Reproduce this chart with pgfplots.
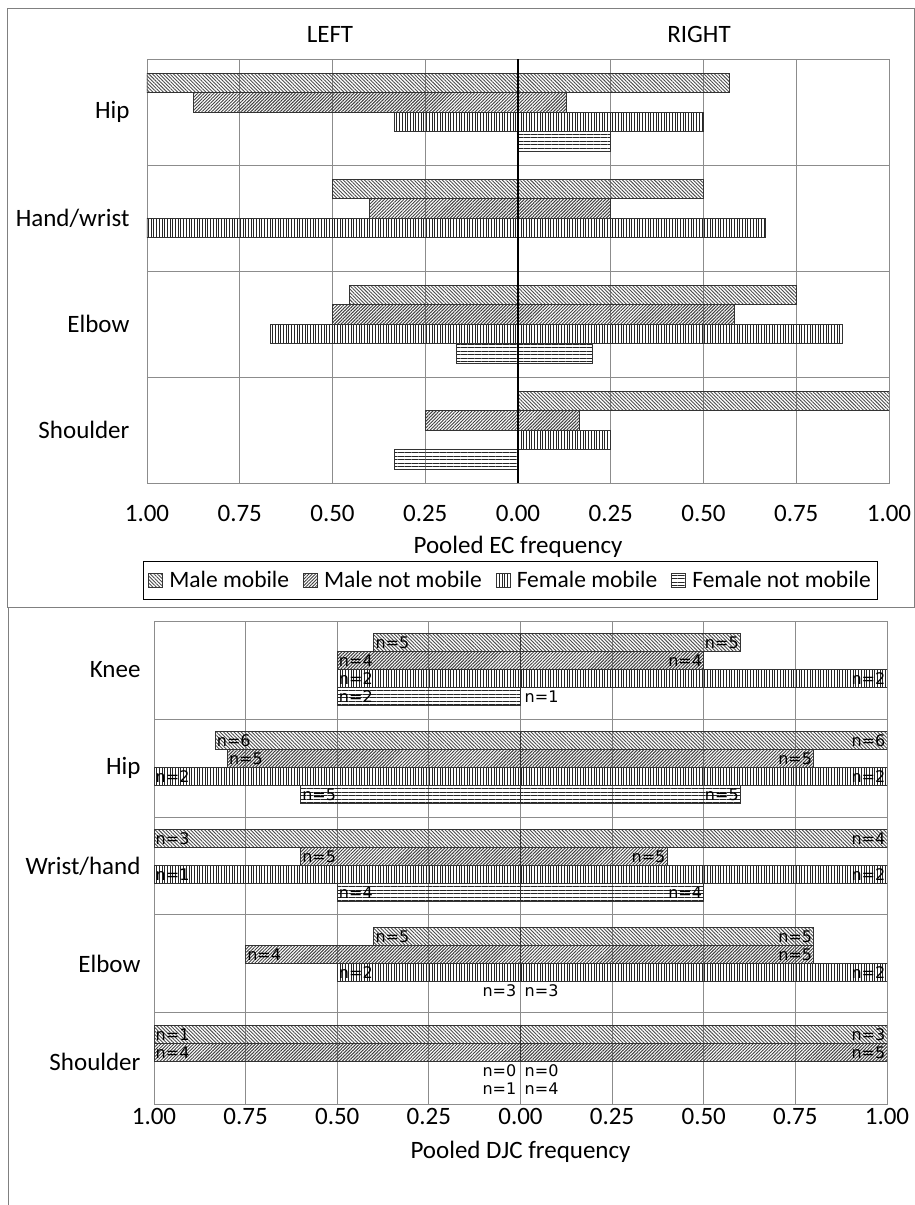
\documentclass[border=0pt]{standalone}
\usepackage{fontspec}
\setmainfont{Carlito}
\newfontfamily\nfont{DejaVu Sans}
\usepackage{pgfplots}
\pgfplotsset{compat=1.18}
\usetikzlibrary{patterns.meta}
\newcommand\fs{\fontsize{25}{30}\selectfont}
\newcommand\lfs{\fontsize{23.5}{28}\selectfont}
\newcommand\nfs{\nfont\fontsize{16}{16}\selectfont}

\tikzset{
  mm/.style={draw=black!80, line width=1pt, pattern={Lines[angle=-45,distance=2.5pt,line width=0.9pt]}, pattern color=black!70},
  mn/.style={draw=black!80, line width=1pt, pattern={Lines[angle=45,distance=2.3pt,line width=1pt]}, pattern color=black!75},
  fm/.style={draw=black!80, line width=1pt, pattern={Lines[angle=90,distance=2.7pt,line width=0.9pt]}, pattern color=black!85},
  fn/.style={draw=black!80, line width=1pt, pattern={Lines[angle=0,distance=3.5pt,line width=0.9pt]}, pattern color=black!85},
  zz/.style={draw=none, fill=none},
}

\pgfplotsset{
 hb/.style={scale only axis, xbar, xmin=-1, xmax=1,
   xtick={-1,-0.75,-0.5,-0.25,0,0.25,0.5,0.75,1},
   xticklabels={1.00,0.75,0.50,0.25,0.00,0.25,0.50,0.75,1.00},
   xmajorgrids, yminorgrids,
   major tick length=0pt, minor tick length=0pt,
   tick label style={font=\fs, text=black},
   yticklabel style={anchor=east},
   label style={font=\fs},
   axis line style={black!45, line width=0.9pt},
   major grid style={black!45, line width=0.9pt},
   minor grid style={black!45, line width=0.9pt},
   legend image code/.code={\draw[#1] (0pt,-7pt) rectangle (14pt,7pt);},
 },
 lab/.style={point meta=explicit symbolic, nodes near coords,
   nodes near coords style={font=\nfs, text=black, inner sep=1.2pt, anchor=#1}},
 labz/.style={point meta=explicit symbolic, nodes near coords,
   nodes near coords style={font=\nfs, text=black, inner sep=4pt, anchor=#1}},
}

\begin{document}
\begin{tikzpicture}
\path[use as bounding box] (0pt,0pt) rectangle (915pt,-1205pt);
\draw[black!50, line width=1pt] (7pt,-8pt) rectangle (914pt,-607pt);
\draw[black!50, line width=1pt] (8pt,-607pt) -- (8pt,-1205pt);
\node[font=\fs] at (330pt,-34pt) {LEFT};
\node[font=\fs] at (699pt,-34pt) {RIGHT};

% ---------- top chart ----------
\begin{axis}[hb, at={(147pt,-59pt)}, anchor=north west,
  width=742pt, height=424pt,
  ymin=-0.5, ymax=3.5, ytick={0,1,2,3},
  yticklabels={Shoulder,Elbow,Hand/wrist,Hip},
  yticklabel style={xshift=-14pt},
  xticklabel style={yshift=-19pt},
  minor ytick={0.5,1.5,2.5},
  bar width=19.5pt,
  xlabel={Pooled EC frequency},
  xlabel style={at={(axis description cs:0.5,0)}, anchor=center, yshift=-64pt},
  legend style={at={(axis description cs:0.49,-0.229)}, anchor=center,
    draw=black, line width=1pt, font=\lfs, legend columns=4,
    inner ysep=8pt, inner xsep=5pt,
    /tikz/every odd column/.append style={column sep=4pt},
    /tikz/every even column/.append style={column sep=12pt}},
]
\addplot[mm, bar shift=29.25pt] coordinates {(-1,3) (0.571,3) (-0.5,2) (0.5,2) (-0.4545,1) (0.75,1) (1,0)};
\addlegendentry{Male mobile}
\addplot[mn, bar shift=9.75pt] coordinates {(-0.875,3) (0.13,3) (-0.4,2) (0.25,2) (-0.5,1) (0.583,1) (-0.25,0) (0.167,0)};
\addlegendentry{Male not mobile}
\addplot[fm, bar shift=-9.75pt] coordinates {(-0.333,3) (0.5,3) (-1,2) (0.667,2) (-0.667,1) (0.875,1) (0.25,0)};
\addlegendentry{Female mobile}
\addplot[fn, bar shift=-29.25pt] coordinates {(0.25,3) (-0.167,1) (0.2,1) (-0.333,0)};
\addlegendentry{Female not mobile}
\draw[black, line width=2pt] (axis cs:0,-0.5) -- (axis cs:0,3.5);
\end{axis}

% ---------- bottom chart ----------
\begin{axis}[hb, at={(154pt,-621pt)}, anchor=north west,
  width=733pt, height=483pt,
  ymin=-0.43, ymax=4.5, ytick={0,1,2,3,4},
  yticklabels={Shoulder,Elbow,Wrist/hand,Hip,Knee},
  yticklabel style={xshift=-10pt},
  xticklabel style={yshift=-1pt},
  minor ytick={0.5,1.5,2.5,3.5},
  bar width=18pt,
  xlabel={Pooled DJC frequency},
  xlabel style={at={(axis description cs:0.5,0)}, anchor=center, yshift=-48pt},
]
% male mobile
\addplot[mm, bar shift=27pt, lab=west] coordinates {(-0.4,4) [n=5] (-0.833,3) [n=6] (-1,2) [n=3] (-0.4,1) [n=5] (-1,0) [n=1]};
\addplot[mm, bar shift=27pt, lab=east] coordinates {(0.6,4) [n=5] (1,3) [n=6] (1,2) [n=4] (0.8,1) [n=5] (1,0) [n=3]};
% male not mobile
\addplot[mn, bar shift=9pt, lab=west] coordinates {(-0.5,4) [n=4] (-0.8,3) [n=5] (-0.6,2) [n=5] (-0.75,1) [n=4] (-1,0) [n=4]};
\addplot[mn, bar shift=9pt, lab=east] coordinates {(0.5,4) [n=4] (0.8,3) [n=5] (0.4,2) [n=5] (0.8,1) [n=5] (1,0) [n=5]};
% female mobile
\addplot[fm, bar shift=-9pt, lab=west] coordinates {(-0.5,4) [n=2] (-1,3) [n=2] (-1,2) [n=1] (-0.5,1) [n=2]};
\addplot[fm, bar shift=-9pt, lab=east] coordinates {(1,4) [n=2] (1,3) [n=2] (1,2) [n=2] (1,1) [n=2]};
\addplot[zz, bar shift=-9pt, labz=east] coordinates {(0,0) [n=0]};
\addplot[zz, bar shift=-9pt, labz=west] coordinates {(0,0) [n=0]};
% female not mobile
\addplot[fn, bar shift=-27pt, lab=west] coordinates {(-0.5,4) [n=2] (-0.6,3) [n=5] (-0.5,2) [n=4]};
\addplot[fn, bar shift=-27pt, lab=east] coordinates {(0.6,3) [n=5] (0.5,2) [n=4]};
\addplot[zz, bar shift=-27pt, labz=east] coordinates {(0,1) [n=3] (0,0) [n=1]};
\addplot[zz, bar shift=-27pt, labz=west] coordinates {(0,4) [n=1] (0,1) [n=3] (0,0) [n=4]};
\end{axis}
\end{tikzpicture}
\end{document}
